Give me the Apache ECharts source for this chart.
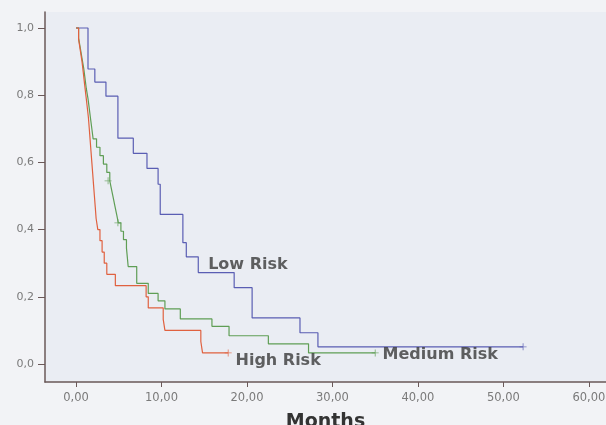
<!DOCTYPE html>
<html><head><meta charset="utf-8">
<style>html,body{margin:0;padding:0;background:#f2f3f6}#c{width:606px;height:425px}</style>
<script src="https://cdn.jsdelivr.net/npm/echarts@6.0.0/dist/echarts.min.js"></script>
</head><body><div id="c"></div>
<script>
// Tick values
const xTicks = [0, 10, 20, 30, 40, 50, 60];
const yTicks = [0, 0.2, 0.4, 0.6, 0.8, 1.0];

// Kaplan-Meier step points: [months, cumulative survival]
const lowRisk = [
  [0, 1.0], [1.4, 0.878], [2.2, 0.839], [3.5, 0.797], [4.9, 0.672], [6.7, 0.627],
  [8.3, 0.582], [9.6, 0.535], [9.85, 0.445], [12.5, 0.361], [12.9, 0.319],
  [14.3, 0.272], [18.5, 0.227], [20.6, 0.137], [26.2, 0.093], [28.3, 0.051], [52.3, 0.051]
];
const mediumRisk = [
  [0, 1.0], [0.3, 0.97], [0.5, 0.94], [0.7, 0.91], [0.9, 0.88], [1.05, 0.85], [1.2, 0.82],
  [1.4, 0.79], [1.55, 0.76], [1.7, 0.73], [1.85, 0.70], [2.0, 0.67], [2.4, 0.645],
  [2.8, 0.62], [3.2, 0.595], [3.6, 0.57], [3.95, 0.545], [4.15, 0.52], [4.35, 0.495],
  [4.55, 0.47], [4.75, 0.445], [4.95, 0.42], [5.25, 0.395], [5.55, 0.37], [5.9, 0.345],
  [6.0, 0.318], [6.1, 0.29], [7.1, 0.24], [8.45, 0.21], [9.6, 0.188], [10.4, 0.164],
  [12.2, 0.134], [15.9, 0.112], [17.9, 0.084], [22.5, 0.06], [27.2, 0.033], [35.0, 0.033]
];
const highRisk = [
  [0, 1.0], [0.3, 0.967], [0.5, 0.933], [0.7, 0.9], [0.85, 0.867], [1.0, 0.833],
  [1.15, 0.8], [1.3, 0.767], [1.45, 0.733], [1.55, 0.7], [1.65, 0.667], [1.75, 0.633],
  [1.85, 0.6], [1.95, 0.567], [2.05, 0.533], [2.15, 0.5], [2.25, 0.467], [2.35, 0.433],
  [2.55, 0.4], [2.8, 0.367], [3.05, 0.333], [3.3, 0.3], [3.6, 0.267], [4.6, 0.233],
  [8.2, 0.2], [8.45, 0.167], [10.2, 0.133], [10.4, 0.1], [14.6, 0.067], [14.8, 0.033],
  [17.8, 0.033]
];
// Censored observations
const lowCensored = [[52.3, 0.051]];
const mediumCensored = [[3.75, 0.545], [4.9, 0.42], [35.0, 0.033]];
const highCensored = [[17.8, 0.033]];

// Curve name annotations
const curveLabels = [
  { name: 'Low Risk', at: [15.4, 0.296] },
  { name: 'High Risk', at: [18.6, 0.009] },
  { name: 'Medium Risk', at: [35.8, 0.028] }
];

const colors = { low: '#5a5eb3', medium: '#5f9e55', high: '#e0613f' };
const plus = 'path://M0,4.4H10V5.6H0Z M4.4,0H5.6V10H4.4Z';

function lineSeries(name, data, color) {
  return { type: 'line', name, data, step: 'end', symbol: 'none', showSymbol: false,
    lineStyle: { color, width: 1.2 }, animation: false, silent: true, z: 3 };
}
function censorSeries(data, color) {
  return { type: 'scatter', data, symbol: plus, symbolSize: 7,
    itemStyle: { color }, animation: false, silent: true, z: 4 };
}

const axisColor = '#6a5858';
const chart = echarts.init(document.getElementById('c'));
chart.setOption({
  backgroundColor: '#f2f3f6',
  grid: { left: 45, right: 0, top: 12, bottom: 43, show: true, backgroundColor: '#eaedf3',
    borderWidth: 0, containLabel: false, outerBoundsMode: 'none' },
  xAxis: {
    type: 'value', min: -3.63, max: 62,
    axisLine: { show: true, onZero: false, lineStyle: { color: axisColor, width: 1.5 } },
    axisTick: { show: true, customValues: xTicks, length: 5, lineStyle: { color: axisColor } },
    axisLabel: { customValues: xTicks, formatter: v => v.toFixed(2).replace('.', ','),
      color: '#7a7a7a', fontSize: 11.5, fontFamily: 'DejaVu Sans', margin: 10 },
    splitLine: { show: false },
    name: 'Months', nameLocation: 'middle', nameGap: 31,
    nameTextStyle: { fontSize: 19, fontWeight: 'bold', color: '#333', fontFamily: 'DejaVu Sans' }
  },
  yAxis: {
    type: 'value', min: -0.0536, max: 1.0476,
    axisLine: { show: true, onZero: false, lineStyle: { color: axisColor, width: 1.5 } },
    axisTick: { show: true, customValues: yTicks, length: 7, lineStyle: { color: axisColor } },
    axisLabel: { customValues: yTicks, formatter: v => v.toFixed(1).replace('.', ','),
      color: '#7a7a7a', fontSize: 11, fontFamily: 'DejaVu Sans', margin: 11 },
    splitLine: { show: false }
  },
  series: [
    lineSeries('Low Risk', lowRisk, colors.low),
    lineSeries('Medium Risk', mediumRisk, colors.medium),
    lineSeries('High Risk', highRisk, colors.high),
    censorSeries(lowCensored, colors.low),
    censorSeries(mediumCensored, colors.medium),
    censorSeries(highCensored, colors.high),
    {
      type: 'scatter', data: curveLabels.map(l => ({ name: l.name, value: l.at })),
      symbolSize: 1, itemStyle: { color: 'transparent' }, animation: false, silent: true, z: 5,
      label: { show: true, position: 'right', distance: 0, formatter: '{b}',
        fontSize: 16, fontWeight: 'bold', color: '#3a3a3a', fontFamily: 'DejaVu Sans' }
    }
  ]
});
</script>
</body></html>
